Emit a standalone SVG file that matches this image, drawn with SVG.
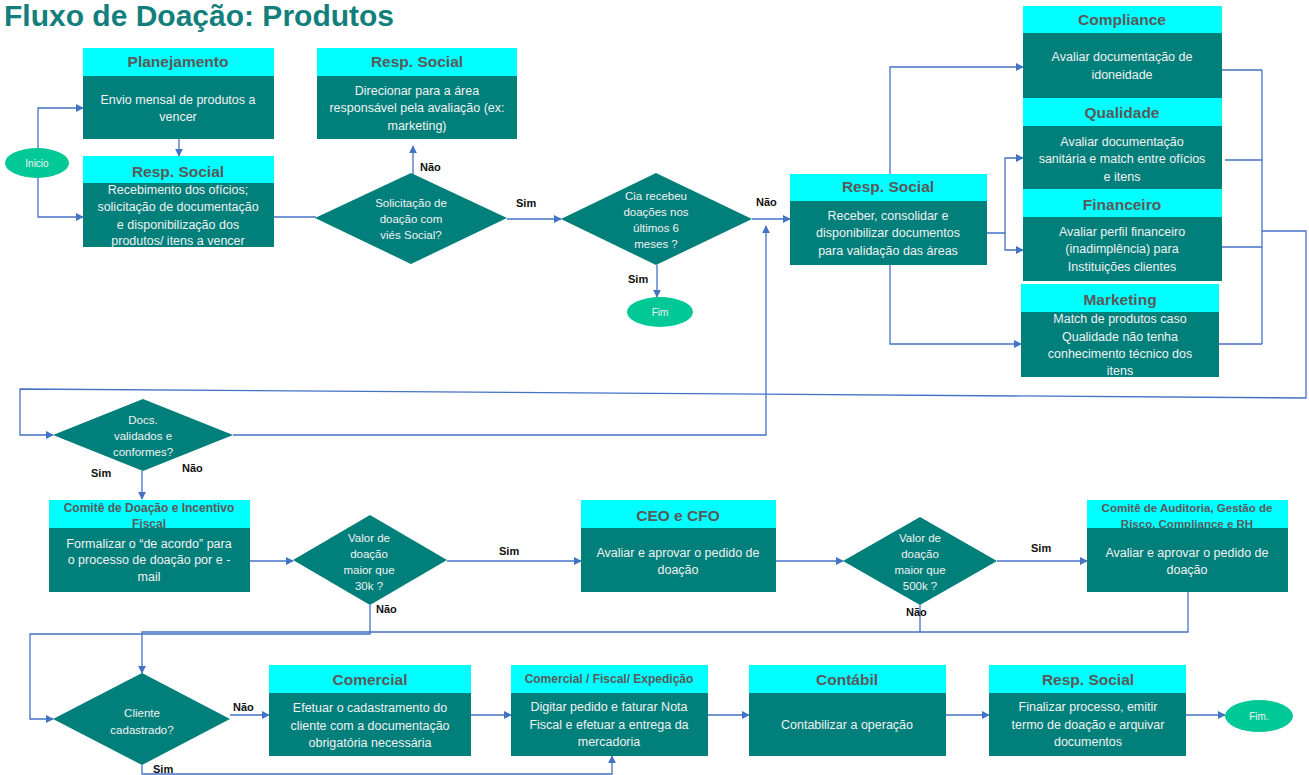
<svg xmlns="http://www.w3.org/2000/svg" width="1309" height="775" viewBox="0 0 1309 775">
<defs>
<marker id="arr" viewBox="0 0 10 10" refX="9" refY="5" markerWidth="8" markerHeight="8" markerUnits="userSpaceOnUse" orient="auto">
<path d="M0,0 L10,5 L0,10 Z" fill="#4472C4"/>
</marker>
<style>
.hdr{fill:#00FFFF}
.body{fill:#007F7B}
.ht{font-family:"Liberation Sans",Arial,sans-serif;font-weight:bold;font-size:15.5px;fill:#595959;text-anchor:middle}
.hts{font-family:"Liberation Sans",Arial,sans-serif;font-weight:bold;font-size:11.5px;fill:#595959;text-anchor:middle}
.bt{font-family:"Liberation Sans",Arial,sans-serif;font-size:12.5px;fill:#F2F2F2;text-anchor:middle}
.dia{fill:#007F7B}
.dt{font-family:"Liberation Sans",Arial,sans-serif;font-size:11.5px;fill:#F2F2F2;text-anchor:middle}
.ell{fill:#00C896}
.et{font-family:"Liberation Sans",Arial,sans-serif;font-size:10px;fill:#F2F2F2;text-anchor:middle}
.lbl{font-family:"Liberation Sans",Arial,sans-serif;font-weight:bold;font-size:11px;fill:#111111}
.c{fill:none;stroke:#4472C4;stroke-width:1.3}
.ca{fill:none;stroke:#4472C4;stroke-width:1.3;marker-end:url(#arr)}
.title{font-family:"Liberation Sans",Arial,sans-serif;font-weight:bold;font-size:30px;fill:#137F7C}
</style>
</defs>
<rect width="1309" height="775" fill="#FFFFFF"/>
<text class="title" x="4" y="26">Fluxo de Doação: Produtos</text>

<g id="connectors">
<path class="ca" d="M38,150 V108 H83"/>
<path class="ca" d="M38,177 V217 H83"/>
<path class="ca" d="M179,139 V156"/>
<path class="c" d="M274,217 H316"/>
<path class="ca" d="M413,190 V146"/>
<path class="ca" d="M507,219 H561"/>
<path class="ca" d="M657,265 V297"/>
<path class="ca" d="M752,219 H790"/>
<path class="ca" d="M890,174 V67 H1023"/>
<path class="ca" d="M987,233 H1005 V158 H1023"/>
<path class="ca" d="M1005,233 V250 H1023"/>
<path class="ca" d="M890,265 V344 H1021"/>
<path class="c" d="M1222,70 H1262 M1225,160 H1262 M1222,247 H1262 M1219,344 H1262 M1262,70 V344"/>
<path class="ca" d="M1262,231 H1306 V398 L20,389 V435 H53"/>
<path class="ca" d="M233,435 H766 V226"/>
<path class="ca" d="M142,471 V499"/>
<path class="ca" d="M250,561 H293"/>
<path class="ca" d="M447,561 H581"/>
<path class="ca" d="M776,561 H843"/>
<path class="ca" d="M997,561 H1087"/>
<path class="ca" d="M370,605 V634 H30 V719 H53"/>
<path class="c" d="M920,605 V632"/>
<path class="ca" d="M1188,592 V632 H142 V673"/>
<path class="ca" d="M230,715 H269"/>
<path class="ca" d="M142,765 V774 H612 V756"/>
<path class="ca" d="M471,715 H511"/>
<path class="ca" d="M708,715 H749"/>
<path class="ca" d="M946,715 H989"/>
<path class="ca" d="M1186,715 H1225"/>
</g>

<g id="labels">
<text class="lbl" x="420" y="171">Não</text>
<text class="lbl" x="516" y="207">Sim</text>
<text class="lbl" x="628" y="283">Sim</text>
<text class="lbl" x="756" y="206">Não</text>
<text class="lbl" x="91" y="477">Sim</text>
<text class="lbl" x="182" y="472">Não</text>
<text class="lbl" x="499" y="555">Sim</text>
<text class="lbl" x="376" y="613">Não</text>
<text class="lbl" x="1031" y="552">Sim</text>
<text class="lbl" x="906" y="616">Não</text>
<text class="lbl" x="233" y="711">Não</text>
<text class="lbl" x="153" y="773">Sim</text>
</g>

<g id="inicio"><ellipse class="ell" cx="37" cy="163" rx="32" ry="15"/><text class="et" x="37" y="167">Inicio</text></g>

<g id="planejamento">
<rect class="hdr" x="83" y="48" width="191" height="28"/><text class="ht" x="178" y="67">Planejamento</text>
<rect class="body" x="83" y="76" width="191" height="63"/>
<text class="bt"><tspan x="178" y="104">Envio mensal de produtos a</tspan><tspan x="178" y="121">vencer</tspan></text>
</g>

<g id="resp-social-1">
<rect class="hdr" x="83" y="156" width="191" height="27"/><text class="ht" x="178" y="177">Resp. Social</text>
<rect class="body" x="83" y="183" width="191" height="64"/>
<text class="bt"><tspan x="178" y="194">Recebimento dos ofícios;</tspan><tspan x="178" y="211">solicitação de documentação</tspan><tspan x="178" y="229">e disponibilização dos</tspan><tspan x="178" y="245">produtos/ itens a vencer</tspan></text>
</g>

<g id="resp-social-2">
<rect class="hdr" x="317" y="48" width="200" height="28"/><text class="ht" x="417" y="67">Resp. Social</text>
<rect class="body" x="317" y="76" width="200" height="63"/>
<text class="bt"><tspan x="417" y="95">Direcionar para a área</tspan><tspan x="417" y="112">responsável pela avaliação (ex:</tspan><tspan x="417" y="130">marketing)</tspan></text>
</g>

<g id="dec-solicitacao">
<polygon class="dia" points="315,218 411,173 507,218 411,264"/>
<text class="dt"><tspan x="411" y="207">Solicitação de</tspan><tspan x="411" y="223">doação com</tspan><tspan x="411" y="239">viés  Social?</tspan></text>
</g>

<g id="dec-cia">
<polygon class="dia" points="561,219 656,173 752,219 656,265"/>
<text class="dt"><tspan x="656" y="200">Cia recebeu</tspan><tspan x="656" y="216">doações nos</tspan><tspan x="656" y="232">últimos 6</tspan><tspan x="656" y="248">meses ?</tspan></text>
</g>

<g id="fim-1"><ellipse class="ell" cx="660" cy="312" rx="33" ry="15"/><text class="et" x="660" y="316">Fim</text></g>

<g id="resp-social-3">
<rect class="hdr" x="790" y="174" width="197" height="27"/><text class="ht" x="888" y="192">Resp. Social</text>
<rect class="body" x="790" y="201" width="197" height="64"/>
<text class="bt"><tspan x="888" y="220">Receber, consolidar e</tspan><tspan x="888" y="237">disponibilizar documentos</tspan><tspan x="888" y="255">para validação das áreas</tspan></text>
</g>

<g id="compliance">
<rect class="hdr" x="1023" y="6" width="199" height="27"/><text class="ht" x="1122" y="25">Compliance</text>
<rect class="body" x="1023" y="33" width="199" height="65"/>
<text class="bt"><tspan x="1122" y="61">Avaliar documentação de</tspan><tspan x="1122" y="79">idoneidade</tspan></text>
</g>

<g id="qualidade">
<rect class="hdr" x="1023" y="98" width="199" height="28"/><text class="ht" x="1122" y="118">Qualidade</text>
<rect class="body" x="1023" y="126" width="199" height="63"/>
<text class="bt"><tspan x="1122" y="146">Avaliar documentação</tspan><tspan x="1122" y="163">sanitária e match entre ofícios</tspan><tspan x="1122" y="181">e itens</tspan></text>
</g>

<g id="financeiro">
<rect class="hdr" x="1023" y="189" width="199" height="28"/><text class="ht" x="1122" y="210">Financeiro</text>
<rect class="body" x="1023" y="217" width="199" height="64"/>
<text class="bt"><tspan x="1122" y="236">Avaliar perfil financeiro</tspan><tspan x="1122" y="253">(inadimplência) para</tspan><tspan x="1122" y="271">Instituições clientes</tspan></text>
</g>

<g id="marketing">
<rect class="hdr" x="1021" y="284" width="198" height="28"/><text class="ht" x="1120" y="305">Marketing</text>
<rect class="body" x="1021" y="312" width="198" height="65"/>
<text class="bt"><tspan x="1120" y="323">Match de produtos caso</tspan><tspan x="1120" y="341">Qualidade não tenha</tspan><tspan x="1120" y="358">conhecimento técnico dos</tspan><tspan x="1120" y="375">itens</tspan></text>
</g>

<g id="dec-docs">
<polygon class="dia" points="53,435 143,399 233,435 143,471"/>
<text class="dt"><tspan x="143" y="424">Docs.</tspan><tspan x="143" y="440">validados e</tspan><tspan x="143" y="456">conformes?</tspan></text>
</g>

<g id="comite-doacao">
<rect class="hdr" x="49" y="500" width="201" height="28"/>
<text class="hts" style="font-size:12px"><tspan x="149" y="512">Comitê de  Doação e Incentivo</tspan><tspan x="149" y="528">Fiscal</tspan></text>
<rect class="body" x="49" y="528" width="201" height="64"/>
<text class="bt"><tspan x="149" y="548">Formalizar o “de acordo” para</tspan><tspan x="149" y="564">o processo de doação por e -</tspan><tspan x="149" y="581">mail</tspan></text>
</g>

<g id="dec-30k">
<polygon class="dia" points="293,560 370,515 447,560 370,605"/>
<text class="dt"><tspan x="369" y="542">Valor de</tspan><tspan x="369" y="558">doação</tspan><tspan x="369" y="574">maior que</tspan><tspan x="369" y="590">30k ?</tspan></text>
</g>

<g id="ceo-cfo">
<rect class="hdr" x="581" y="500" width="195" height="28"/><text class="ht" x="678" y="521">CEO e CFO</text>
<rect class="body" x="581" y="528" width="195" height="64"/>
<text class="bt"><tspan x="678" y="557">Avaliar e aprovar o pedido de</tspan><tspan x="678" y="574">doação</tspan></text>
</g>

<g id="dec-500k">
<polygon class="dia" points="843,561 920,517 997,561 920,605"/>
<text class="dt"><tspan x="920" y="542">Valor de</tspan><tspan x="920" y="558">doação</tspan><tspan x="920" y="574">maior que</tspan><tspan x="920" y="590">500k ?</tspan></text>
</g>

<g id="comite-auditoria">
<rect class="hdr" x="1087" y="500" width="201" height="28"/>
<text class="hts"><tspan x="1187" y="512">Comitê de Auditoria, Gestão de</tspan><tspan x="1187" y="528">Risco, Compliance  e RH</tspan></text>
<rect class="body" x="1087" y="528" width="201" height="64"/>
<text class="bt"><tspan x="1187" y="557">Avaliar e aprovar o pedido de</tspan><tspan x="1187" y="574">doação</tspan></text>
</g>

<g id="dec-cliente">
<polygon class="dia" points="53,719 142,673 230,719 142,765"/>
<text class="dt"><tspan x="142" y="717">Cliente</tspan><tspan x="142" y="734">cadastrado?</tspan></text>
</g>

<g id="comercial">
<rect class="hdr" x="269" y="665" width="202" height="28"/><text class="ht" x="370" y="685">Comercial</text>
<rect class="body" x="269" y="693" width="202" height="63"/>
<text class="bt"><tspan x="370" y="712">Efetuar o cadastramento do</tspan><tspan x="370" y="730">cliente com a documentação</tspan><tspan x="370" y="747">obrigatória necessária</tspan></text>
</g>

<g id="comercial-fiscal">
<rect class="hdr" x="511" y="665" width="197" height="28"/><text class="hts" style="font-size:12px" x="609" y="683">Comercial / Fiscal/ Expedição</text>
<rect class="body" x="511" y="693" width="197" height="63"/>
<text class="bt"><tspan x="609" y="711">Digitar pedido e faturar Nota</tspan><tspan x="609" y="729">Fiscal e efetuar a entrega da</tspan><tspan x="609" y="746">mercadoria</tspan></text>
</g>

<g id="contabil">
<rect class="hdr" x="749" y="665" width="197" height="28"/><text class="ht" x="847" y="685">Contábil</text>
<rect class="body" x="749" y="693" width="197" height="63"/>
<text class="bt"><tspan x="847" y="729">Contabilizar a operação</tspan></text>
</g>

<g id="resp-social-4">
<rect class="hdr" x="989" y="665" width="197" height="28"/><text class="ht" x="1088" y="685">Resp. Social</text>
<rect class="body" x="989" y="693" width="197" height="63"/>
<text class="bt"><tspan x="1088" y="711">Finalizar processo, emitir</tspan><tspan x="1088" y="729">termo de doação e arquivar</tspan><tspan x="1088" y="746">documentos</tspan></text>
</g>

<g id="fim-2"><ellipse class="ell" cx="1259" cy="716" rx="34" ry="16"/><text class="et" x="1259" y="720">Fim.</text></g>
</svg>
